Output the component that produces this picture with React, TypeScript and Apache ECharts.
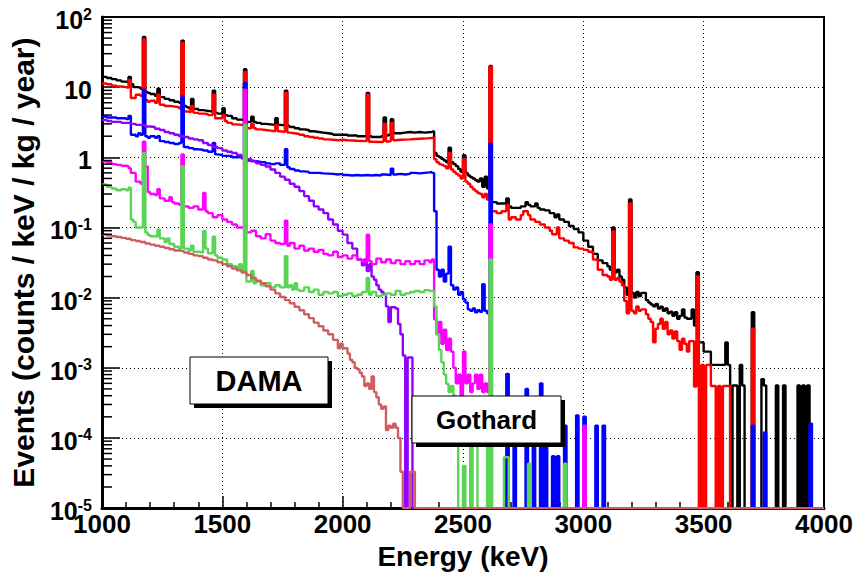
import { useEffect, useRef } from "react";
import * as echarts from "echarts";

type Bin = [number, number];

// Energy axis (keV) and rate axis (decades) used by the scales
const E_MIN = 1000;
const E_MAX = 4000;
const X_TICKS = [1000, 1500, 2000, 2500, 3000, 3500, 4000];
const Y_DECADES = [-5, -4, -3, -2, -1, 0, 1, 2];
const FLOOR = 1e-5;

// Each entry: [lower bin edge in keV, rate in counts/keV/kg/year]; the value holds until the next edge.
const blackHist: Bin[] = [
  [1000, 14], [1020, 13.5], [1040, 13], [1060, 12.5], [1080, 12], [1100, 11.8], [1110, 14], [1120, 11], [1130, 10], [1150, 9.8],
  [1160, 9.5], [1170, 52], [1180, 8.5], [1190, 8.3], [1200, 8.0], [1220, 7.5], [1230, 9.5], [1240, 7.2], [1260, 6.8], [1280, 6.5],
  [1300, 6.2], [1320, 6.0], [1330, 46], [1340, 5.4], [1350, 5.2], [1360, 5.0], [1370, 6.8], [1380, 4.9], [1400, 4.7], [1420, 4.6],
  [1440, 4.5], [1460, 8.9], [1470, 4.3], [1480, 4.2], [1500, 5.0], [1510, 4.0], [1520, 3.9], [1540, 3.6], [1560, 3.45], [1580, 3.4],
  [1590, 18], [1600, 3.2], [1620, 3.8], [1630, 3.2], [1640, 3.1], [1660, 3.0], [1680, 2.95], [1700, 2.9], [1720, 3.6], [1730, 2.9],
  [1740, 2.85], [1760, 8.9], [1770, 2.8], [1780, 2.7], [1800, 2.6], [1820, 2.5], [1840, 2.45], [1860, 2.35], [1880, 2.3], [1900, 2.25],
  [1920, 2.2], [1940, 2.15], [1960, 2.1], [2020, 2.05], [2060, 2.0], [2100, 8.3], [2110, 2.0], [2120, 1.95], [2160, 2.0], [2170, 3.7],
  [2180, 2.05], [2190, 2.1], [2200, 3.5], [2210, 2.2], [2240, 2.25], [2260, 2.3], [2280, 2.25], [2300, 2.3], [2320, 2.25], [2340, 2.3],
  [2370, 2.35], [2380, 1.15], [2390, 1.05], [2400, 1.0], [2410, 0.95], [2420, 0.9], [2430, 0.85], [2440, 1.37], [2450, 0.85], [2460, 0.8],
  [2470, 0.75], [2480, 0.68], [2490, 0.62], [2500, 1.07], [2510, 0.6], [2520, 0.55], [2530, 0.52], [2540, 0.5], [2550, 0.47], [2560, 0.45],
  [2570, 0.5], [2580, 0.38], [2590, 0.53], [2600, 0.36], [2610, 20], [2620, 0.23], [2640, 0.22], [2680, 0.26], [2690, 0.2], [2700, 0.19],
  [2740, 0.2], [2760, 0.23], [2770, 0.21], [2780, 0.2], [2800, 0.22], [2810, 0.19], [2820, 0.18], [2840, 0.175], [2860, 0.16], [2880, 0.14],
  [2890, 0.153], [2900, 0.13], [2920, 0.12], [2940, 0.105], [2960, 0.095], [2980, 0.085], [3000, 0.065], [3020, 0.053], [3040, 0.042], [3060, 0.034],
  [3080, 0.031], [3100, 0.028], [3110, 0.025], [3120, 0.1], [3130, 0.023], [3140, 0.025], [3150, 0.02], [3160, 0.018], [3170, 0.014], [3180, 0.011],
  [3190, 0.25], [3200, 0.0117], [3210, 0.01], [3220, 0.012], [3230, 0.0105], [3240, 0.0117], [3260, 0.0092], [3270, 0.0085], [3280, 0.008], [3290, 0.0075],
  [3300, 0.0081], [3310, 0.007], [3320, 0.0074], [3330, 0.0065], [3340, 0.007], [3350, 0.006], [3360, 0.0063], [3370, 0.0055], [3380, 0.0062], [3390, 0.005],
  [3400, 0.0055], [3410, 0.0068], [3420, 0.0052], [3430, 0.005], [3450, 0.0068], [3460, 0.004], [3470, 0.023], [3480, 0.0023], [3500, 0.0017], [3530, 0.0011],
  [3590, 0.0023], [3600, 0.0011], [3610, 1e-5], [3620, 5.6e-4], [3640, 1e-5], [3650, 0.0011], [3660, 5.6e-4], [3670, 1e-5], [3700, 0.0062], [3710, 1e-5],
  [3740, 6.9e-4], [3750, 5.6e-4], [3760, 1e-5], [3800, 5.6e-4], [3810, 1e-5], [3830, 5.6e-4], [3840, 1e-5], [3890, 5.6e-4], [3900, 1e-5], [3910, 5.6e-4],
  [3920, 1e-5], [3930, 5.6e-4], [3940, 1e-5], [4000, 1e-5],
];

const redHist: Bin[] = [
  [1000, 11.3], [1020, 11], [1040, 10.5], [1060, 10.2], [1080, 10], [1100, 9.8], [1110, 12.7], [1120, 7.0], [1140, 7.8], [1160, 7.5],
  [1170, 48], [1180, 6.5], [1190, 6.2], [1200, 6.4], [1220, 6.0], [1230, 7.8], [1240, 5.6], [1260, 5.4], [1280, 5.3], [1300, 5.2],
  [1320, 5.0], [1330, 43], [1340, 4.5], [1360, 4.4], [1370, 5.4], [1380, 4.3], [1400, 4.2], [1420, 4.15], [1440, 4.0], [1460, 7.8],
  [1470, 3.6], [1500, 4.0], [1510, 3.3], [1520, 3.1], [1540, 2.95], [1560, 2.9], [1580, 2.85], [1590, 16.5], [1600, 2.6], [1620, 3.0],
  [1630, 2.6], [1640, 2.5], [1660, 2.45], [1680, 2.4], [1700, 2.35], [1720, 2.9], [1730, 2.35], [1740, 2.3], [1760, 8.3], [1770, 2.25],
  [1780, 2.2], [1800, 2.15], [1820, 2.1], [1840, 2.0], [1860, 1.95], [1880, 1.9], [1900, 1.85], [1920, 1.8], [1940, 1.78], [1960, 1.75],
  [1980, 1.78], [2000, 1.75], [2020, 1.72], [2060, 1.7], [2100, 7.8], [2110, 1.67], [2120, 1.65], [2160, 1.67], [2170, 3.0], [2180, 1.68],
  [2190, 1.7], [2200, 3.1], [2210, 1.75], [2220, 1.78], [2240, 1.8], [2280, 1.82], [2300, 1.85], [2340, 1.88], [2360, 1.9], [2380, 0.94],
  [2390, 0.85], [2400, 0.8], [2410, 0.78], [2420, 0.75], [2430, 0.7], [2440, 1.15], [2450, 0.67], [2460, 0.62], [2470, 0.58], [2480, 0.55],
  [2490, 0.5], [2500, 0.94], [2510, 0.45], [2520, 0.42], [2530, 0.38], [2540, 0.35], [2550, 0.33], [2560, 0.31], [2570, 0.3], [2580, 0.27],
  [2590, 0.3], [2600, 0.25], [2610, 19.5], [2620, 0.17], [2640, 0.16], [2660, 0.17], [2680, 0.21], [2690, 0.13], [2700, 0.14], [2720, 0.13],
  [2740, 0.15], [2750, 0.17], [2770, 0.15], [2780, 0.13], [2800, 0.12], [2820, 0.11], [2840, 0.1], [2860, 0.09], [2870, 0.08], [2890, 0.1],
  [2900, 0.07], [2920, 0.065], [2940, 0.06], [2960, 0.052], [2980, 0.05], [3000, 0.048], [3020, 0.045], [3040, 0.035], [3060, 0.025], [3080, 0.021],
  [3100, 0.02], [3110, 0.018], [3120, 0.088], [3130, 0.018], [3140, 0.019], [3150, 0.017], [3160, 0.015], [3170, 0.009], [3180, 0.006], [3190, 0.22],
  [3200, 0.0065], [3210, 0.006], [3220, 0.0075], [3230, 0.0065], [3240, 0.0068], [3260, 0.0058], [3270, 0.005], [3280, 0.0045], [3290, 0.0023], [3300, 0.0036],
  [3310, 0.0042], [3320, 0.005], [3330, 0.0036], [3340, 0.0045], [3350, 0.003], [3360, 0.0034], [3370, 0.0026], [3380, 0.0033], [3390, 0.0024], [3400, 0.0018],
  [3410, 0.0026], [3420, 0.0022], [3430, 0.0017], [3440, 0.0024], [3460, 5.4e-4], [3470, 0.02], [3480, 1e-5], [3490, 0.0011], [3500, 1e-5], [3510, 0.0011],
  [3530, 5.5e-4], [3550, 1e-5], [3560, 5.5e-4], [3570, 1e-5], [3580, 5.5e-4], [3610, 1e-5], [3700, 0.0036], [3710, 1e-5], [4000, 1e-5],
];

const blueHist: Bin[] = [
  [1000, 3.8], [1020, 3.7], [1060, 3.6], [1100, 3.5], [1110, 3.9], [1120, 2.1], [1140, 2.0], [1150, 2.2], [1160, 2.1], [1170, 9.2],
  [1180, 2.0], [1190, 1.9], [1200, 2.0], [1220, 1.9], [1230, 2.0], [1240, 1.7], [1260, 1.65], [1280, 1.6], [1300, 1.55], [1320, 1.6],
  [1330, 7.3], [1340, 1.4], [1360, 1.35], [1380, 1.3], [1400, 1.28], [1420, 1.25], [1440, 1.2], [1460, 1.6], [1470, 1.1], [1480, 1.08],
  [1500, 1.05], [1540, 1.0], [1560, 1.02], [1580, 0.97], [1590, 11.5], [1600, 0.9], [1620, 0.88], [1640, 0.86], [1660, 0.85], [1680, 0.82],
  [1700, 0.8], [1720, 0.82], [1740, 0.78], [1760, 1.3], [1770, 0.72], [1780, 0.68], [1800, 0.65], [1820, 0.63], [1840, 0.62], [1860, 0.6],
  [1900, 0.59], [1920, 0.58], [1960, 0.57], [1980, 0.58], [2000, 0.56], [2020, 0.55], [2040, 0.56], [2060, 0.55], [2080, 0.56], [2100, 0.55],
  [2120, 0.56], [2140, 0.55], [2160, 0.57], [2180, 0.56], [2200, 0.69], [2210, 0.57], [2220, 0.58], [2240, 0.57], [2260, 0.58], [2280, 0.6],
  [2300, 0.59], [2320, 0.6], [2340, 0.61], [2360, 0.62], [2370, 0.6], [2380, 0.17], [2390, 0.025], [2400, 0.02], [2410, 0.025], [2420, 0.017],
  [2430, 0.022], [2440, 0.053], [2450, 0.015], [2460, 0.013], [2470, 0.014], [2480, 0.011], [2490, 0.012], [2500, 0.0095], [2510, 0.0085], [2520, 0.0068],
  [2530, 0.0065], [2540, 0.007], [2550, 0.0062], [2560, 0.0066], [2570, 0.0063], [2580, 0.0155], [2590, 0.0065], [2600, 0.006], [2610, 1.56], [2620, 1e-5],
  [2680, 8.2e-4], [2690, 1e-5], [2710, 1.2e-4], [2720, 1e-5], [2760, 5e-4], [2770, 1e-5], [2790, 2.5e-4], [2800, 1e-5], [2820, 6e-4], [2830, 1e-5],
  [2840, 3e-4], [2850, 1e-5], [2870, 5.5e-5], [2880, 1e-5], [2890, 5.5e-5], [2900, 1e-5], [2920, 1.5e-4], [2930, 1e-5], [2970, 2.1e-4], [2980, 1e-5],
  [3000, 2e-4], [3010, 1e-5], [3050, 1.5e-4], [3060, 1e-5], [3080, 1.5e-4], [3090, 1e-5], [3700, 1.5e-4], [3710, 1e-5], [3750, 1.2e-4], [3760, 1e-5],
  [3940, 1.6e-4], [3950, 1e-5], [4000, 1e-5],
];

const violetHist: Bin[] = [
  [1000, 3.4], [1020, 3.3], [1040, 3.2], [1080, 3.1], [1120, 3.0], [1140, 2.9], [1160, 2.85], [1180, 2.75], [1200, 2.7], [1220, 2.55],
  [1240, 2.45], [1260, 2.3], [1280, 2.2], [1300, 2.1], [1320, 2.0], [1340, 1.95], [1360, 1.85], [1380, 1.8], [1400, 1.75], [1420, 1.6],
  [1440, 1.5], [1460, 1.4], [1480, 1.35], [1500, 1.25], [1520, 1.2], [1540, 1.15], [1560, 1.08], [1580, 1.0], [1600, 0.94], [1620, 0.88],
  [1640, 0.82], [1660, 0.78], [1680, 0.74], [1700, 0.67], [1720, 0.6], [1740, 0.53], [1760, 0.48], [1780, 0.42], [1800, 0.38], [1820, 0.33],
  [1840, 0.28], [1860, 0.24], [1880, 0.2], [1900, 0.18], [1920, 0.16], [1940, 0.13], [1960, 0.11], [1980, 0.09], [2000, 0.079], [2020, 0.06],
  [2040, 0.05], [2060, 0.035], [2080, 0.029], [2090, 0.035], [2100, 0.024], [2110, 0.03], [2120, 0.02], [2130, 0.018], [2140, 0.015], [2150, 0.013],
  [2160, 0.012], [2170, 0.011], [2180, 0.0075], [2190, 0.0045], [2200, 0.0073], [2220, 0.007], [2230, 0.0042], [2240, 0.003], [2250, 0.0015], [2260, 1e-5],
  [2270, 0.0014], [2290, 1e-5], [4000, 1e-5],
];

const magentaHist: Bin[] = [
  [1000, 0.88], [1020, 0.85], [1040, 0.8], [1060, 0.78], [1080, 0.76], [1100, 0.75], [1110, 0.7], [1120, 0.6], [1140, 0.45], [1160, 0.42],
  [1170, 1.67], [1180, 0.74], [1190, 0.32], [1200, 0.3], [1220, 0.29], [1230, 0.35], [1240, 0.26], [1260, 0.24], [1280, 0.27], [1290, 0.23],
  [1300, 0.22], [1320, 0.21], [1330, 1.1], [1340, 0.2], [1360, 0.19], [1380, 0.2], [1400, 0.18], [1420, 0.31], [1430, 0.17], [1440, 0.16],
  [1460, 0.14], [1480, 0.15], [1500, 0.13], [1520, 0.12], [1540, 0.11], [1560, 0.1], [1590, 9.2], [1600, 0.085], [1620, 0.09], [1640, 0.075],
  [1660, 0.07], [1680, 0.08], [1700, 0.065], [1720, 0.06], [1740, 0.058], [1760, 0.125], [1770, 0.055], [1780, 0.06], [1800, 0.05], [1820, 0.055],
  [1840, 0.047], [1860, 0.05], [1880, 0.045], [1900, 0.048], [1920, 0.042], [1940, 0.04], [1960, 0.045], [1980, 0.038], [2000, 0.04], [2020, 0.036],
  [2040, 0.04], [2060, 0.035], [2080, 0.033], [2100, 0.079], [2110, 0.033], [2120, 0.03], [2140, 0.036], [2160, 0.032], [2180, 0.035], [2200, 0.031],
  [2220, 0.034], [2240, 0.03], [2260, 0.033], [2280, 0.03], [2300, 0.033], [2320, 0.03], [2340, 0.034], [2360, 0.032], [2370, 0.035], [2380, 0.0049],
  [2390, 0.003], [2400, 0.0045], [2410, 0.0022], [2420, 0.0035], [2430, 0.0018], [2440, 0.0026], [2450, 0.0017], [2460, 0.001], [2470, 6e-4], [2480, 8e-4],
  [2490, 4e-4], [2500, 0.0017], [2510, 6e-4], [2520, 8e-4], [2530, 4.5e-4], [2540, 6e-4], [2550, 8e-4], [2560, 5e-4], [2570, 8e-4], [2580, 4.5e-4],
  [2590, 6e-4], [2600, 4.5e-4], [2610, 0.11], [2620, 1e-5], [3000, 1.5e-4], [3010, 1e-5], [4000, 1e-5],
];

const greenHist: Bin[] = [
  [1000, 0.41], [1020, 0.38], [1040, 0.36], [1060, 0.34], [1080, 0.35], [1100, 0.34], [1110, 0.37], [1120, 0.13], [1130, 0.12], [1140, 0.1],
  [1170, 1.15], [1180, 0.085], [1190, 0.078], [1200, 0.075], [1220, 0.074], [1230, 0.093], [1240, 0.07], [1260, 0.062], [1270, 0.07], [1280, 0.058],
  [1300, 0.053], [1320, 0.05], [1330, 0.74], [1340, 0.05], [1360, 0.047], [1370, 0.055], [1380, 0.045], [1400, 0.044], [1420, 0.089], [1430, 0.05],
  [1440, 0.043], [1460, 0.074], [1470, 0.04], [1480, 0.037], [1500, 0.035], [1520, 0.03], [1540, 0.028], [1560, 0.025], [1570, 0.03], [1580, 0.023],
  [1590, 2.9], [1600, 0.017], [1620, 0.024], [1630, 0.016], [1640, 0.017], [1660, 0.015], [1680, 0.016], [1700, 0.014], [1720, 0.015], [1740, 0.014],
  [1760, 0.039], [1770, 0.014], [1780, 0.015], [1790, 0.013], [1800, 0.016], [1810, 0.013], [1820, 0.0125], [1840, 0.014], [1860, 0.012], [1880, 0.013],
  [1900, 0.011], [1920, 0.012], [1940, 0.0115], [1960, 0.012], [1980, 0.0105], [2000, 0.011], [2020, 0.0115], [2040, 0.0105], [2060, 0.011], [2080, 0.012],
  [2100, 0.019], [2110, 0.011], [2120, 0.012], [2140, 0.0105], [2160, 0.011], [2180, 0.0115], [2200, 0.011], [2220, 0.0125], [2240, 0.011], [2260, 0.0115],
  [2280, 0.012], [2300, 0.0125], [2320, 0.012], [2340, 0.0128], [2360, 0.0125], [2380, 0.0075], [2390, 0.003], [2400, 0.0018], [2410, 0.0012], [2420, 8e-4],
  [2430, 5.9e-4], [2440, 4.5e-4], [2450, 5.5e-4], [2460, 4e-4], [2470, 9e-5], [2480, 1e-5], [2500, 4e-5], [2510, 1e-5], [2530, 1.5e-4], [2540, 1e-5],
  [2560, 1.2e-4], [2580, 8e-5], [2600, 1e-5], [2610, 0.035], [2620, 1e-5], [2670, 5.3e-5], [2690, 1e-5], [2770, 4.3e-5], [2780, 1e-5], [2920, 4.3e-5],
  [2930, 1e-5], [4000, 1e-5],
];

const brownHist: Bin[] = [
  [1000, 0.079], [1020, 0.077], [1040, 0.075], [1060, 0.073], [1080, 0.071], [1100, 0.069], [1120, 0.066], [1140, 0.064], [1160, 0.062], [1180, 0.059],
  [1200, 0.057], [1220, 0.055], [1240, 0.053], [1260, 0.051], [1280, 0.049], [1300, 0.047], [1320, 0.046], [1340, 0.044], [1360, 0.042], [1380, 0.04],
  [1400, 0.039], [1420, 0.037], [1440, 0.035], [1460, 0.034], [1480, 0.032], [1500, 0.03], [1520, 0.028], [1540, 0.026], [1560, 0.0245], [1580, 0.023],
  [1600, 0.021], [1620, 0.019], [1640, 0.0175], [1660, 0.016], [1680, 0.0145], [1700, 0.013], [1720, 0.0115], [1740, 0.0102], [1760, 0.0092], [1780, 0.0083],
  [1800, 0.0074], [1820, 0.0066], [1840, 0.0058], [1860, 0.0051], [1880, 0.0044], [1900, 0.0039], [1920, 0.0034], [1940, 0.003], [1960, 0.0025], [1980, 0.0019],
  [1990, 0.0022], [2000, 0.0019], [2020, 0.0016], [2030, 0.0013], [2040, 0.0012], [2050, 0.001], [2060, 0.00095], [2070, 0.00085], [2080, 0.00075], [2090, 0.00055],
  [2100, 0.0006], [2110, 0.0005], [2120, 0.00075], [2130, 0.00045], [2140, 0.00038], [2150, 0.0003], [2160, 0.00026], [2170, 0.00028], [2180, 0.00013], [2190, 0.00015],
  [2200, 0.00014], [2210, 0.00016], [2220, 0.00014], [2230, 0.0001], [2240, 3.3e-5], [2250, 1e-5], [2280, 3.3e-5], [2300, 1e-5], [4000, 1e-5],
];

const SPECTRA = [
  { name: "black", color: "#000000", bins: blackHist },
  { name: "red", color: "#ff0000", bins: redHist },
  { name: "blue", color: "#0000ff", bins: blueHist },
  { name: "violet", color: "#9000ff", bins: violetHist },
  { name: "magenta", color: "#ff00ff", bins: magentaHist },
  { name: "green", color: "#59d454", bins: greenHist },
  { name: "brown", color: "#cf5e61", bins: brownHist },
];

const FONT = "'Liberation Sans', Arial, Helvetica, sans-serif";

function closeBins(bins: Bin[]): Bin[] {
  const last = bins[bins.length - 1];
  return last[0] < E_MAX ? [...bins, [E_MAX, last[1]]] : bins;
}

// positions of the 2..9 sub-decade ticks on the log axis
const yMinorTicks: number[] = [];
for (let i = 0; i < Y_DECADES.length - 1; i++) {
  for (let m = 2; m <= 9; m++) yMinorTicks.push(m * Math.pow(10, Y_DECADES[i]));
}

function decadeLabel(v: number): string {
  const e = Math.round(Math.log10(v));
  if (e === 0) return "{b|1}";
  if (e === 1) return "{b|10}";
  return "{b|10}{s|" + e + "}";
}

function pave(x: number, y: number, w: number, h: number, text: string, size: number) {
  return {
    type: "group",
    z: 100,
    children: [
      { type: "rect", shape: { x: x + 4, y: y + 4, width: w, height: h }, style: { fill: "#000" }, z: 100 },
      { type: "rect", shape: { x, y, width: w, height: h }, style: { fill: "#fff", stroke: "#000", lineWidth: 1 }, z: 101 },
      {
        type: "text",
        x: x + w / 2,
        y: y + h / 2,
        z: 102,
        style: { text, fill: "#000", font: `bold ${size}px ${FONT}`, align: "center", verticalAlign: "middle" },
      },
    ],
  };
}

export default function App() {
  const ref = useRef<HTMLDivElement>(null);

  useEffect(() => {
    if (!ref.current) return;
    const chart = echarts.init(ref.current, null, { renderer: "svg" });

    const histSeries = SPECTRA.map((s, idx) => ({
      name: s.name,
      type: "line",
      step: "end",
      symbol: "none",
      clip: true,
      silent: true,
      z: 10 + idx,
      data: closeBins(s.bins),
      lineStyle: { color: s.color, width: 2.4 },
      ...(s.name === "brown"
        ? {
            markLine: {
              silent: true,
              symbol: "none",
              label: { show: false },
              lineStyle: { color: s.color, width: 1.5, type: "solid" },
              data: [{ yAxis: FLOOR }],
            },
          }
        : {}),
    }));

    const option: any = {
      animation: false,
      backgroundColor: "#fff",
      grid: {
        left: 98,
        top: 17,
        width: 726,
        height: 492,
        show: true,
        borderColor: "#000",
        borderWidth: 2,
        backgroundColor: "transparent",
      },
      xAxis: {
        type: "value",
        min: X_TICKS[0],
        max: X_TICKS[X_TICKS.length - 1],
        interval: 500,
        name: "Energy (keV)",
        nameLocation: "middle",
        nameGap: 33,
        nameTextStyle: { fontFamily: FONT, fontWeight: "bold", fontSize: 28, color: "#000" },
        axisLine: { show: true, lineStyle: { color: "#000", width: 3 } },
        axisTick: { show: true, inside: true, length: 12, lineStyle: { color: "#000", width: 1.5 } },
        minorTick: { show: true, splitNumber: 5, length: 6, lineStyle: { color: "#000", width: 1.5 } },
        splitLine: { show: true, lineStyle: { color: "#000", width: 1, type: [1, 3] } },
        axisLabel: {
          margin: 3,
          formatter: (v: number) => String(v),
          fontFamily: FONT,
          fontWeight: "bold",
          fontSize: 26,
          color: "#000",
          showMinLabel: true,
          showMaxLabel: true,
        },
      },
      yAxis: {
        type: "log",
        logBase: 10,
        min: Math.pow(10, Y_DECADES[0]),
        max: Math.pow(10, Y_DECADES[Y_DECADES.length - 1]),
        splitNumber: Y_DECADES.length - 1,
        name: "Events (counts / keV / kg / year)",
        nameLocation: "middle",
        nameGap: 64,
        nameTextStyle: { fontFamily: FONT, fontWeight: "bold", fontSize: 30, color: "#000" },
        axisLine: { show: true, lineStyle: { color: "#000", width: 3 } },
        axisTick: { show: true, inside: true, length: 18, lineStyle: { color: "#000", width: 1.5 } },
        splitLine: { show: true, lineStyle: { color: "#000", width: 1, type: [1, 3] } },
        axisLabel: {
          margin: 10,
          formatter: decadeLabel,
          color: "#000",
          padding: [6, 0, 0, 0],
          rich: {
            b: { fontFamily: FONT, fontWeight: "bold", fontSize: 25, lineHeight: 28, color: "#000" },
            s: { fontFamily: FONT, fontWeight: "bold", fontSize: 16, lineHeight: 16, verticalAlign: "top", color: "#000" },
          },
        },
      },
      series: [
        ...histSeries,
        {
          type: "custom",
          silent: true,
          clip: false,
          z: 30,
          data: yMinorTicks.map((v) => [E_MIN, v]),
          renderItem: (_params: any, api: any) => {
            const p = api.coord([api.value(0), api.value(1)]);
            return {
              type: "line",
              shape: { x1: p[0], y1: p[1], x2: p[0] + 10, y2: p[1] },
              style: { stroke: "#000", lineWidth: 1.5 },
            };
          },
        },
      ],
      graphic: [pave(190, 357, 138, 47, "DAMA", 29), pave(412, 396, 149, 47, "Gothard", 26)],
    };

    chart.setOption(option);
    return () => chart.dispose();
  }, []);

  return (
    <div
      ref={ref}
      style={{ position: "fixed", left: 0, top: 0, width: 858, height: 575, background: "#fff" }}
    />
  );
}
